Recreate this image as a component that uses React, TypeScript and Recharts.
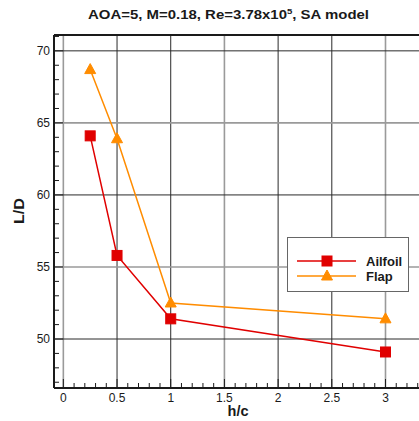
import React from 'react';
import { LineChart, Line, XAxis, YAxis, ReferenceLine } from 'recharts';

// h/c spacing and lift-to-drag ratio for each configuration
const H_C = [0.25, 0.5, 1, 3];
const AILFOIL = [64.1, 55.8, 51.4, 49.1];
const FLAP = [68.7, 63.9, 52.5, 51.4];

const X_MAJOR = [0, 0.5, 1, 1.5, 2, 2.5, 3];
const Y_MAJOR = [50, 55, 60, 65, 70];

const X_DOMAIN: [number, number] = [-0.087, 3.312];
const Y_DOMAIN: [number, number] = [46.6, 71.1];

// minor ticks: 0.1 on x, 1 on y
const X_TICKS: number[] = [];
for (let i = 0; i <= 33; i++) X_TICKS.push(+(i / 10).toFixed(1));
const Y_TICKS: number[] = [];
for (let v = 47; v <= 71; v++) Y_TICKS.push(v);

const RED = '#e00000';
const ORANGE = '#ff8c00';
const INK = '#1a1a1a';
const GRID_DARK = '#2a2a2a';
const GRID_LIGHT = '#9a9a9a';
const LIGHT_X = [0, 1.5, 3];
const LIGHT_Y = [55, 65];
const FONT = '"Liberation Sans", Arial, sans-serif';

const data = H_C.map((h, i) => ({ h, ailfoil: AILFOIL[i], flap: FLAP[i] }));

const XTick = ({ x, y, payload }: any) => {
  const major = X_MAJOR.includes(payload.value);
  return (
    <g>
      <line x1={x} x2={x} y1={y} y2={y - (major ? 9 : 5)} stroke={INK} strokeWidth={1} />
      {major && (
        <text x={x} y={y + 14} textAnchor="middle" fontSize={12} fontFamily={FONT} fill={INK}>
          {payload.value}
        </text>
      )}
    </g>
  );
};

const YTick = ({ x, y, payload }: any) => {
  const major = Y_MAJOR.includes(payload.value);
  return (
    <g>
      <line x1={x} x2={x + (major ? 9 : 5)} y1={y} y2={y} stroke={INK} strokeWidth={1} />
      {major && (
        <text x={x - 4} y={y + 4} textAnchor="end" fontSize={12} fontFamily={FONT} fill={INK}>
          {payload.value}
        </text>
      )}
    </g>
  );
};

const Square = ({ cx, cy, color }: { cx: number; cy: number; color: string }) => (
  <rect x={cx - 5} y={cy - 5} width={10} height={10} fill={color} stroke={color} strokeWidth={1} />
);

const Triangle = ({ cx, cy, color }: { cx: number; cy: number; color: string }) => (
  <polygon
    points={`${cx},${cy - 6} ${cx - 5.5},${cy + 4} ${cx + 5.5},${cy + 4}`}
    fill={color}
    stroke={color}
    strokeWidth={1}
  />
);

const LegendBox = () => (
  <div
    style={{
      position: 'absolute',
      left: 287,
      top: 237,
      width: 122,
      height: 55,
      border: '1px solid #666',
      background: '#fff',
      boxSizing: 'border-box',
    }}
  >
    <svg width={120} height={53}>
      <line x1={9} x2={68} y1={23} y2={23} stroke={RED} strokeWidth={1.5} />
      <Square cx={39} cy={23} color={RED} />
      <text x={78} y={28} fontSize={13} fontWeight="bold" fontFamily={FONT} fill={INK}>Ailfoil</text>
      <line x1={9} x2={68} y1={38} y2={38} stroke={ORANGE} strokeWidth={1.5} />
      <Triangle cx={39} cy={38} color={ORANGE} />
      <text x={78} y={43} fontSize={13} fontWeight="bold" fontFamily={FONT} fill={INK}>Flap</text>
    </svg>
  </div>
);

export default function App() {
  return (
    <div style={{ position: 'absolute', left: 0, top: 0, width: 419, height: 421, background: '#fff' }}>
      <LineChart width={419} height={421} data={data} margin={{ top: 35, right: 0, bottom: 0, left: 14 }}>
        {X_MAJOR.map((v) => (
          <ReferenceLine
            key={`gx-${v}`}
            x={v}
            stroke={LIGHT_X.includes(v) ? GRID_LIGHT : GRID_DARK}
            strokeWidth={LIGHT_X.includes(v) ? 1.6 : 1}
          />
        ))}
        {Y_MAJOR.map((v) => (
          <ReferenceLine
            key={`gy-${v}`}
            y={v}
            stroke={LIGHT_Y.includes(v) ? GRID_LIGHT : GRID_DARK}
            strokeWidth={LIGHT_Y.includes(v) ? 1.6 : 1}
          />
        ))}
        <ReferenceLine y={Y_DOMAIN[1]} stroke={INK} strokeWidth={2} />
        <XAxis
          dataKey="h"
          type="number"
          domain={X_DOMAIN}
          ticks={X_TICKS}
          interval={0}
          allowDataOverflow
          height={33}
          tickSize={0}
          tickMargin={0}
          tickLine={false}
          tick={<XTick />}
          axisLine={{ stroke: INK, strokeWidth: 2 }}
        />
        <YAxis
          type="number"
          domain={Y_DOMAIN}
          ticks={Y_TICKS}
          interval={0}
          allowDataOverflow
          width={40}
          tickSize={0}
          tickMargin={0}
          tickLine={false}
          tick={<YTick />}
          axisLine={{ stroke: INK, strokeWidth: 2 }}
        />
        <Line
          dataKey="ailfoil"
          stroke={RED}
          strokeWidth={1.5}
          isAnimationActive={false}
          dot={(p: any) => <Square key={`a-${p.index}`} cx={p.cx} cy={p.cy} color={RED} />}
          activeDot={false}
        />
        <Line
          dataKey="flap"
          stroke={ORANGE}
          strokeWidth={1.5}
          isAnimationActive={false}
          dot={(p: any) => <Triangle key={`f-${p.index}`} cx={p.cx} cy={p.cy} color={ORANGE} />}
          activeDot={false}
        />
      </LineChart>
      <svg width={419} height={421} style={{ position: 'absolute', left: 0, top: 0, pointerEvents: 'none' }}>
        <text
          x={88}
          y={19}
          textLength={281}
          lengthAdjust="spacingAndGlyphs"
          fontSize={12.5}
          fontWeight="bold"
          fontFamily={FONT}
          fill={INK}
        >
          AOA=5, M=0.18, Re=3.78x10
          <tspan fontSize={8} dy={-5}>5</tspan>
          <tspan dy={5}>, SA model</tspan>
        </text>
        <text
          x={24}
          y={211}
          transform="rotate(-90 24 211)"
          textAnchor="middle"
          textLength={26}
          lengthAdjust="spacingAndGlyphs"
          fontSize={14}
          fontWeight="bold"
          fontFamily={FONT}
          fill={INK}
        >
          L/D
        </text>
        <text
          x={238}
          y={416}
          textAnchor="middle"
          textLength={21}
          lengthAdjust="spacingAndGlyphs"
          fontSize={14}
          fontWeight="bold"
          fontFamily={FONT}
          fill={INK}
        >
          h/c
        </text>
      </svg>
      <LegendBox />
    </div>
  );
}
